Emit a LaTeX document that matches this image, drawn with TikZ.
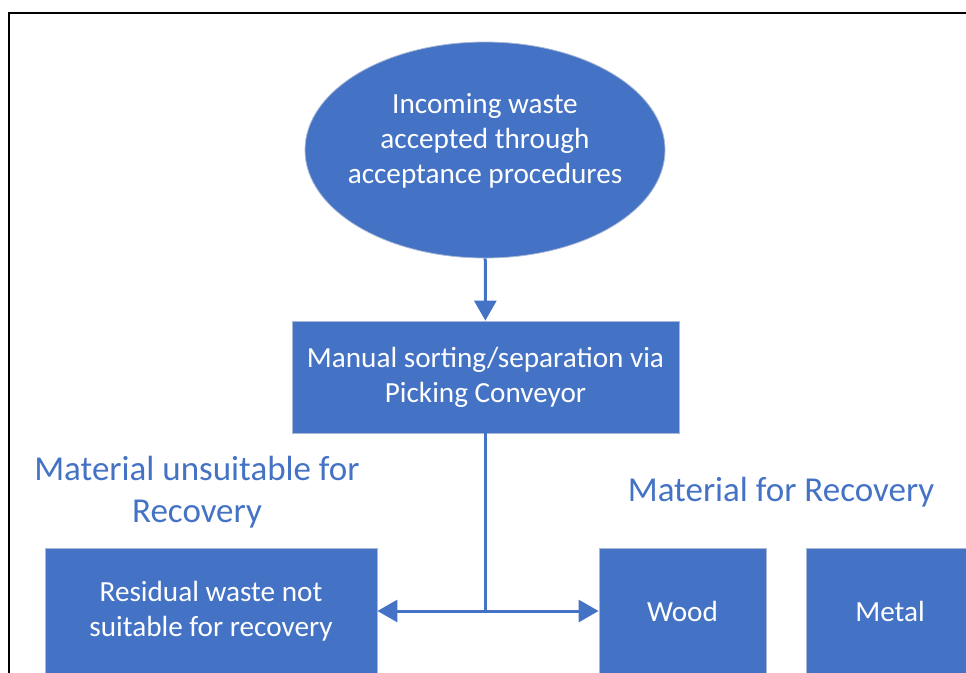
\documentclass[tikz,border=0pt]{standalone}
\usepackage{fontspec}
\setmainfont{Carlito}
\usetikzlibrary{shapes.geometric,arrows.meta}
\definecolor{wordblue}{HTML}{4472C4}
\definecolor{edgegrey}{HTML}{A9B8D6}

\begin{document}
\begin{tikzpicture}[x=1pt,y=-1pt,
  blob/.style={ellipse,fill=wordblue,draw=edgegrey,line width=0.8pt,
    inner sep=0pt,minimum width=360pt,minimum height=216pt},
  stepbox/.style={rectangle,fill=wordblue,draw=edgegrey,line width=0.8pt,text=white,align=center,
    inner sep=0pt,font=\fontsize{29.2}{35}\selectfont},
  heading/.style={text=wordblue,align=center,inner sep=0pt,font=\fontsize{35}{42}\selectfont},
  flow/.style={draw=wordblue,line width=3pt},
  tip/.style={-{Triangle[length=20pt,width=22pt]}}]
\useasboundingbox (0,0) rectangle (966,672);
\begin{scope}
\clip (0,0) rectangle (966,672);
\draw[line width=2.2pt] (9,13) rectangle (1000,700);

\node[blob,label={[text=white,align=center,inner sep=0pt,yshift=9pt,
    font=\fontsize{29.2}{35}\selectfont]center:Incoming waste\\accepted through\\acceptance procedures}]
  (incoming) at (485,150) {};
\node[stepbox,minimum width=387pt,minimum height=112pt] (sorting) at (485.5,377) {Manual sorting/separation via\\Picking Conveyor};
\node[stepbox,minimum width=332pt,minimum height=126pt] (residual) at (211,611) {Residual waste not\\suitable for recovery};
\node[stepbox,minimum width=167pt,minimum height=126pt] (wood) at (682.5,611) {Wood};
\node[stepbox,minimum width=168pt,minimum height=126pt] (metal) at (890,611) {Metal};

\node[heading] (unsuitable) at (197,492) {Material unsuitable for\\Recovery};
\node[heading] (recovery) at (781,492) {Material for Recovery};

\draw[flow,tip] (incoming) -- (sorting);
\coordinate (split) at (sorting.south |- residual.east);
\draw[flow] (sorting) -- (split);
\draw[flow,tip] (split) -- (residual);
\draw[flow,tip] (split) -- (wood);
\end{scope}
\end{tikzpicture}
\end{document}
